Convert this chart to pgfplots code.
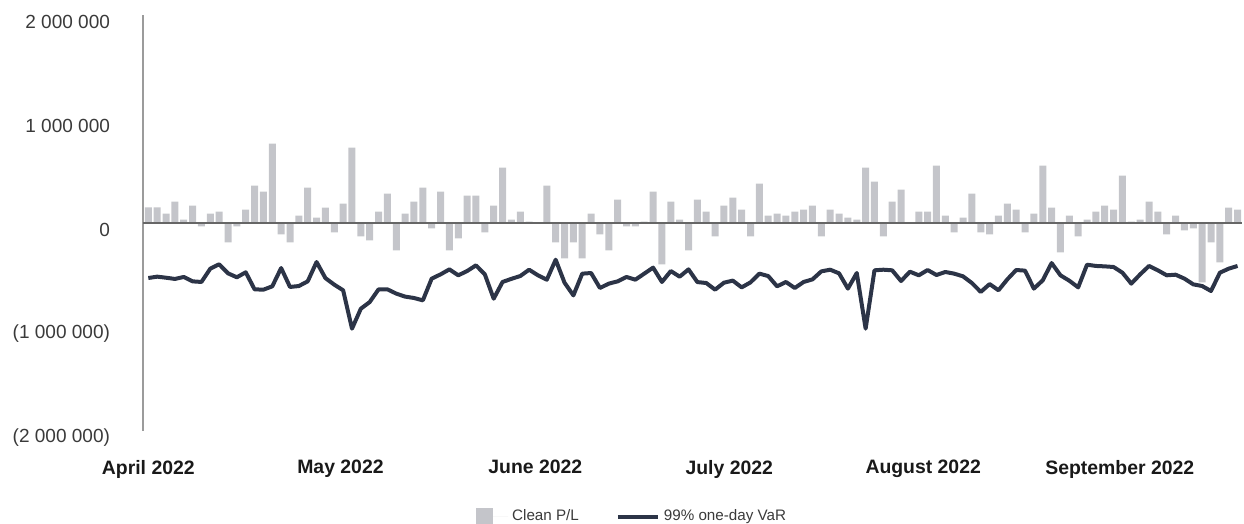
\documentclass[border=0pt]{standalone}
\usepackage{fontspec}
\setmainfont{Liberation Sans}
\usepackage{pgfplots}
\pgfplotsset{compat=1.18}
\usepackage{pgfplotstable}

\definecolor{plbar}{HTML}{C4C5CA}
\definecolor{varline}{HTML}{2C3447}
\definecolor{axisgray}{HTML}{9B9B9B}
\definecolor{labelgray}{HTML}{3A3A3A}

% Daily clean P/L and 99% one-day VaR, April-September 2022 (trading-day index)
\pgfplotstableread{
day pl var
0 150000 -529000
1 150000 -516000
2 90000 -526000
3 205000 -538000
4 32000 -519000
5 167000 -561000
6 -32000 -567000
7 90000 -439000
8 109000 -397000
9 -186000 -484000
10 -32000 -522000
11 128000 -474000
12 359000 -638000
13 301000 -641000
14 763000 -609000
15 -109000 -433000
16 -186000 -615000
17 70000 -606000
18 340000 -561000
19 51000 -375000
20 147000 -530000
21 -90000 -593000
22 186000 -647000
23 724000 -1016000
24 -128000 -824000
25 -167000 -760000
26 109000 -638000
27 282000 -638000
28 -263000 -679000
29 90000 -708000
30 205000 -721000
31 340000 -744000
32 -51000 -535000
33 301000 -494000
34 -263000 -446000
35 -147000 -503000
36 263000 -462000
37 263000 -407000
38 -90000 -494000
39 167000 -728000
40 532000 -567000
41 32000 -537000
42 109000 -510000
43 13000 -449000
44 5000 -503000
45 359000 -545000
46 -186000 -353000
47 -340000 -574000
48 -186000 -696000
49 -340000 -487000
50 90000 -481000
51 -109000 -625000
52 -263000 -583000
53 224000 -561000
54 -32000 -519000
55 -32000 -545000
56 13000 -487000
57 301000 -429000
58 -397000 -567000
59 205000 -462000
60 32000 -516000
61 -263000 -446000
62 224000 -568000
63 109000 -577000
64 -128000 -641000
65 167000 -574000
66 244000 -554000
67 128000 -619000
68 -128000 -571000
69 378000 -487000
70 70000 -510000
71 90000 -609000
72 70000 -567000
73 109000 -625000
74 128000 -567000
75 167000 -542000
76 -128000 -465000
77 128000 -449000
78 90000 -484000
79 51000 -631000
80 32000 -481000
81 532000 -1016000
82 397000 -455000
83 -128000 -449000
84 205000 -455000
85 320000 -558000
86 8000 -468000
87 109000 -503000
88 109000 -452000
89 551000 -500000
90 70000 -471000
91 -90000 -487000
92 51000 -513000
93 282000 -577000
94 -90000 -663000
95 -109000 -587000
96 70000 -647000
97 186000 -542000
98 128000 -452000
99 -90000 -458000
100 90000 -631000
101 551000 -551000
102 147000 -385000
103 -282000 -503000
104 70000 -555000
105 -128000 -619000
106 32000 -401000
107 109000 -413000
108 167000 -417000
109 128000 -423000
110 455000 -478000
111 13000 -583000
112 32000 -494000
113 205000 -413000
114 109000 -455000
115 -109000 -503000
116 70000 -497000
117 -70000 -535000
118 -51000 -590000
119 -570000 -606000
120 -186000 -654000
121 -378000 -478000
122 147000 -439000
123 128000 -413000
}\risktable

\begin{document}
\begin{tikzpicture}
\begin{axis}[
  at={(0,0)}, anchor=south west,
  scale only axis, width=549.5pt, height=208pt,
  xmin=-0.6, xmax=123.5, ymin=-2000000, ymax=2000000,
  axis lines*=left,
  x axis line style={draw=none},
  y axis line style={draw=axisgray, line width=1pt},
  major tick length=0pt,
  xtick={0,21.7,43.7,65.6,87.5,109.7},
  xticklabels={April 2022, May 2022, June 2022, July 2022, August 2022, September 2022},
  xticklabel style={font=\fontsize{9.7}{11}\selectfont\bfseries, text=black!90, yshift=-11pt},
  ytick={-2000000,-1000000,0,1000000,2000000},
  yticklabels={{(2 000 000)},{(1 000 000)},0,{1 000 000},{2 000 000}},
  yticklabel style={font=\fontsize{9.5}{11}\selectfont, text=labelgray, xshift=-13pt, yshift=-3.5pt},
  scaled y ticks=false,
  clip=false,
  legend style={at={(0.446,-0.206)}, anchor=center, draw=none, fill=none,
    font=\fontsize{7.6}{9}\selectfont, text=labelgray, legend columns=2,
    /tikz/every even column/.append style={column sep=16.5pt}},
  legend cell align=left,
]
\addplot[ybar, bar width=3.5pt, bar shift=0pt, fill=plbar, draw=none,
  legend image code/.code={\fill[plbar] (0pt,-4.25pt) rectangle (8.5pt,4.25pt);
    \path (0pt,0pt) -- (16pt,0pt);}]
  table[x=day, y=pl]{\risktable};
\addlegendentry{Clean P/L}
% zero reference line
\draw[black!60, line width=0.6pt] (axis cs:-0.6,0) -- (axis cs:123.5,0);
\addplot[varline, line width=2pt, line join=round, mark=none,
  legend image code/.code={\draw[varline, line width=2pt] (0pt,0pt) -- (20pt,0pt);}]
  table[x=day, y=var]{\risktable};
\addlegendentry{99\% one-day VaR}
\end{axis}
\pgfresetboundingbox
\path[use as bounding box] (-71.5pt,-46.5pt) rectangle (550.5pt,215.5pt);
\end{tikzpicture}
\end{document}
